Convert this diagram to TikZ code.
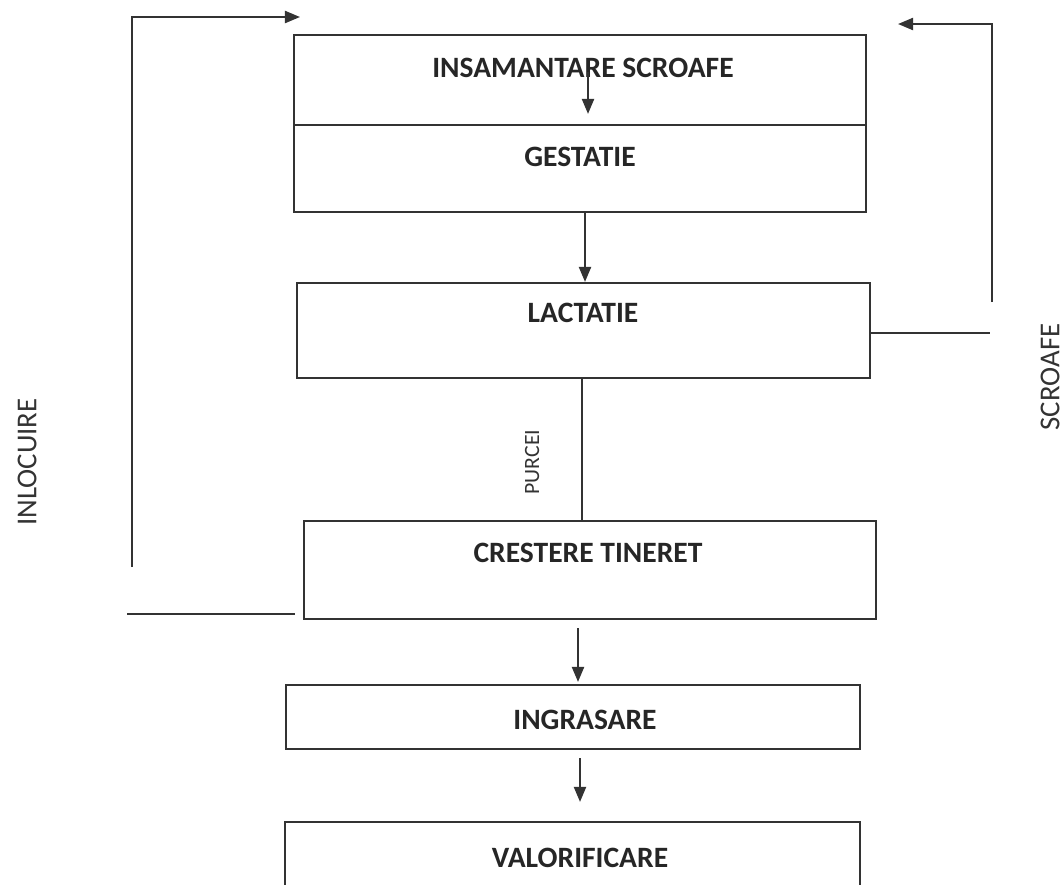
\documentclass[tikz,border=0pt]{standalone}
\usepackage{fontspec}
\setmainfont{Carlito}
\usetikzlibrary{arrows.meta,positioning,calc}

\tikzset{
  box/.style={draw=black!80, line width=0.6pt, rectangle, inner sep=0pt},
  step label/.style={font=\bfseries\fontsize{8.4}{10}\selectfont, text=black!85},
  side label/.style={font=\fontsize{8.2}{9}\selectfont, text=black!80, rotate=90},
  flow/.style={draw=black!80, line width=0.6pt, -{Triangle[length=1.5mm,width=1.2mm]}},
  link/.style={draw=black!80, line width=0.6pt}
}

\begin{document}
\begin{tikzpicture}[x=0.01cm, y=-0.01cm]
    \useasboundingbox (0,0) rectangle (1064,884);
    \clip (0,0) rectangle (1064,884);
    % boxes
    \node[box, minimum width=5.72cm, minimum height=0.90cm] (ins) at (580,80) {};
    \node[box, minimum width=5.72cm, minimum height=0.87cm] (gest) at (580,168.5) {};
    \node[box, minimum width=5.73cm, minimum height=0.95cm] (lact) at (583.5,330.5) {};
    \node[box, minimum width=5.72cm, minimum height=0.98cm] (crest) at (590,570) {};
    \node[box, minimum width=5.74cm, minimum height=0.64cm] (ingr) at (573,717) {};
    \node[box, minimum width=5.75cm, minimum height=1.20cm] (valor) at (572.5,882) {};
    % texts
    \node[step label] (insL) at (583,68) {INSAMANTARE SCROAFE};
    \node[step label] (gestL) at (580,157) {GESTATIE};
    \node[step label] (lactL) at (583,313) {LACTATIE};
    \node[step label] (crestL) at (588,553) {CRESTERE TINERET};
    \node[step label] (ingrL) at (585,720) {INGRASARE};
    \node[step label] (valorL) at (580,858) {VALORIFICARE};
    \node[side label] (inloc) at (27,462) {INLOCUIRE};
    \node[side label] (scro) at (1050,377) {SCROAFE};
    \node[side label, font=\fontsize{6.2}{8}\selectfont] (purc) at (532,462) {PURCEI};
    % connectors
    \coordinate (inTop) at (588,72);
    \coordinate (leftBot) at (132,567);
    \coordinate (leftTip) at (300,17);
    \coordinate (leftA) at (127,614);
    \coordinate (leftB) at (295,614);
    \coordinate (rightEnd) at (990,333);
    \coordinate (rightBot) at (992,302);
    \coordinate (rightTip) at (898,24);
    \draw[flow, shorten >=0.1cm] (inTop) -- (inTop |- gest.north);
    \draw[flow] (gest.south -| 585,0) -- (lact.north -| 585,0);
    \draw[link] (lact.south -| 582,0) -- (crest.north -| 582,0);
    \draw[flow, shorten <=0.08cm, shorten >=0.02cm] (crest.south -| 578,0) -- (ingr.north -| 578,0);
    \draw[flow, shorten <=0.08cm, shorten >=0.19cm] (ingr.south -| 580,0) -- (valor.north -| 580,0);
    \draw[flow] (leftBot) |- (leftTip);
    \draw[link] (leftA) -- (leftB);
    \draw[link] (lact.east |- rightEnd) -- (rightEnd);
    \draw[flow] (rightBot) |- (rightTip);
\end{tikzpicture}
\end{document}
